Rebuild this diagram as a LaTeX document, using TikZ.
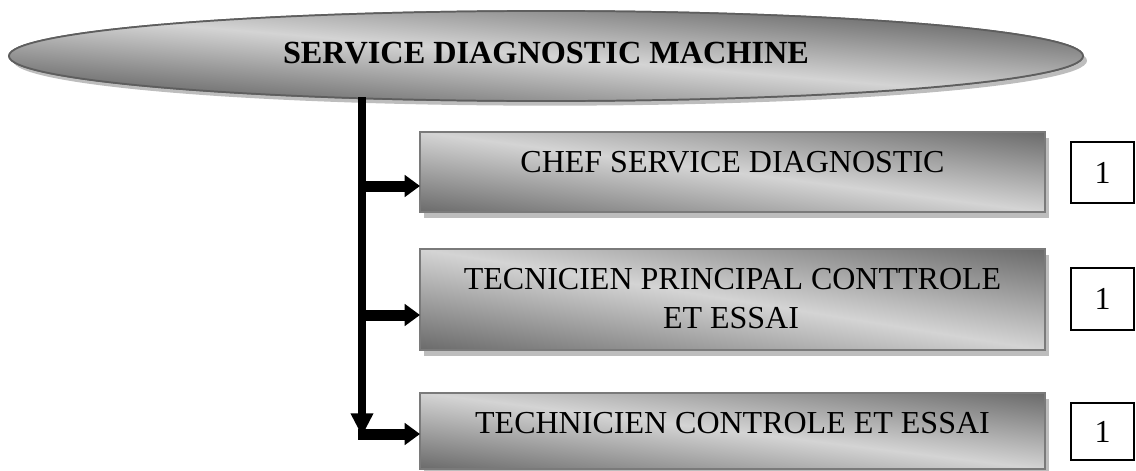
\documentclass[tikz,border=0pt]{standalone}
\usepackage{fontspec}
\setmainfont{Liberation Serif}
\usetikzlibrary{arrows.meta,shadows,shapes.geometric,calc}

\definecolor{shadeDark}{HTML}{6A6A6A}
\definecolor{shadeLight}{HTML}{D4D4D4}
\definecolor{edgeGray}{HTML}{7A7A7A}
\definecolor{ovalEdge}{HTML}{5E5E5E}
\definecolor{dropGray}{HTML}{BDBDBD}

% diagonal grey gradient clipped to a shape: #1 clip path, #2 centre,
% #3 angle of the light band, #4 half thickness of the gradient
\newcommand\fillgrad[4]{%
  \begin{scope}
    \clip #1;
    \begin{scope}[transform canvas={rotate around={#3:#2}}]
      \shade[top color=shadeDark, bottom color=shadeDark, middle color=shadeLight]
        ($#2+(-720,-#4)$) rectangle ($#2+(720,#4)$);
    \end{scope}
  \end{scope}}

\tikzset{
  label text/.style={font=\fontsize{24}{29}\selectfont, inner sep=0pt, anchor=base},
  rolebox/.style={rectangle, draw=edgeGray, line width=1.5pt, fill=white, inner sep=0pt,
    outer sep=0pt, minimum width=468.75pt,
    general shadow={fill=dropGray, shadow xshift=3pt, shadow yshift=-4.5pt}},
  roleedge/.style={draw=edgeGray, line width=1.5pt},
  countbox/.style={rectangle, draw=black, line width=1.1pt, fill=white, inner sep=0pt,
    minimum width=47.25pt, font=\fontsize{24}{29}\selectfont},
  trunk/.style={line width=6.2pt, -{Triangle[length=17pt,width=16pt]}},
  branch/.style={line width=8.25pt, -{Triangle[length=11.5pt,width=16pt]}}
}

\begin{document}
\begin{tikzpicture}[x=0.75pt,y=-0.75pt]
\useasboundingbox (0,0) rectangle (1136,471);

% service oval
\node[ellipse, draw=ovalEdge, line width=1.3pt, fill=white, inner sep=0pt, outer sep=0pt,
      minimum width=805.5pt, minimum height=67.5pt,
      general shadow={fill=dropGray, shadow xshift=3pt, shadow yshift=-3.5pt}]
      (head) at (546,56) {};
\fillgrad{(head.center) ellipse [x radius=402.75pt, y radius=33.75pt]}{(head.center)}{-4.8}{72}
\draw[draw=ovalEdge, line width=1.3pt] (head.center) ellipse [x radius=402.75pt, y radius=33.75pt];
\node[label text, font=\fontsize{24.2}{29}\selectfont\bfseries] (title) at (546,63)
      {SERVICE DIAGNOSTIC MACHINE};

% staff boxes
\node[rolebox, minimum height=60pt]    (b1) at (732.5,172)   {};
\node[rolebox, minimum height=75.75pt] (b2) at (732.5,299.5) {};
\node[rolebox, minimum height=57pt]    (b3) at (732.5,431)   {};

\fillgrad{(b1.north west) rectangle (b1.south east)}{(b1.center)}{-7.3}{80}
\fillgrad{(b2.north west) rectangle (b2.south east)}{(b2.center)}{-9.2}{100}
\fillgrad{(b3.north west) rectangle (b3.south east)}{(b3.center)}{-7.0}{76}
\draw[roleedge] (b1.north west) rectangle (b1.south east);
\draw[roleedge] (b2.north west) rectangle (b2.south east);
\draw[roleedge] (b3.north west) rectangle (b3.south east);

\node[label text] (t1)  at (732.5,172) {CHEF SERVICE DIAGNOSTIC};
\node[label text] (t2a) at (732.5,289) {TECNICIEN PRINCIPAL CONTTROLE};
\node[label text] (t2b) at (731,328)   {ET ESSAI};
\node[label text] (t3)  at (732.5,433) {TECHNICIEN CONTROLE ET ESSAI};

% head counts
\node[countbox, minimum height=45.75pt] (c1) at (1102.5,172.5) {1};
\node[countbox, minimum height=46.5pt]  (c2) at (1102.5,299)   {1};
\node[countbox, minimum height=42.75pt] (c3) at (1102.5,431.5) {1};

% connectors
\coordinate (trunkTop) at (362,97);
\coordinate (trunkEnd) at (362,436);
\coordinate (j1) at (358,186);
\coordinate (j2) at (358,315);
\coordinate (j3) at (358,434);

\draw[trunk] (trunkTop) -- (trunkEnd);
\draw[branch] (j1) -- (j1 -| b1.west);
\draw[branch] (j2) -- (j2 -| b2.west);
\draw[branch] (j3) -- (j3 -| b3.west);
\end{tikzpicture}
\end{document}
